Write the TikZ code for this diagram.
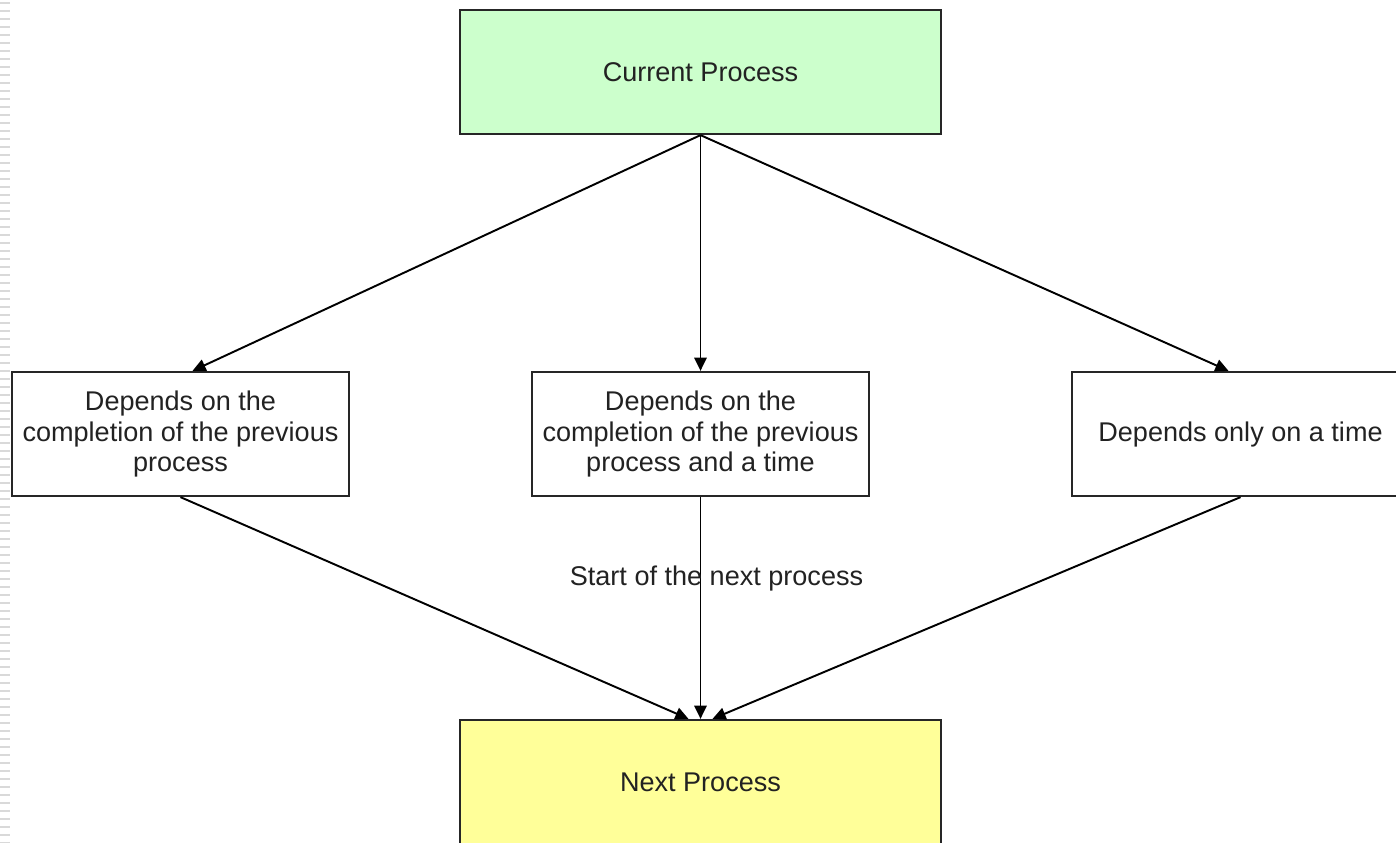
\documentclass[tikz,border=0pt]{standalone}
\usepackage{fontspec}
\setmainfont{Liberation Sans}
\usetikzlibrary{arrows.meta,positioning}

\definecolor{curgreen}{HTML}{CCFFCC}
\definecolor{nextyellow}{HTML}{FFFF99}
\definecolor{textgray}{HTML}{222222}

\tikzset{
  procbox/.style={draw=black!85, line width=1.3pt, inner sep=0pt,
    minimum width=9.62cm, minimum height=2.48cm,
    font=\fontsize{15.4}{17}\selectfont, text=textgray},
  condbox/.style={draw=black!85, line width=1.3pt, inner sep=0pt, fill=white,
    minimum width=6.74cm, minimum height=2.48cm, align=center,
    font=\fontsize{15.4}{17.5}\selectfont, text=textgray},
  arr/.style={draw=black, line width=1.1pt, -{Triangle[length=7.5pt,width=7pt]}},
}

\begin{document}
\begin{tikzpicture}[x=0.02cm,y=-0.02cm]
\useasboundingbox (0,0) rectangle (1396,842);
\clip (0,0) rectangle (1396,842);

% slide edge
\draw[gray!30, line width=0.2cm, dash pattern=on 0.04cm off 0.12cm] (5,2) -- (5,842);

\node[procbox, fill=curgreen] (cur) at (700.5,72) {Current Process};

\node[condbox] (dep1) at (180.5,434) {Depends on the\\completion of the previous\\process};
\node[condbox] (dep2) at (700.5,434) {Depends on the\\completion of the previous\\process and a time};
\node[condbox] (dep3) at (1240.5,434) {Depends only on a time};

\node[procbox, fill=nextyellow] (next) at (700.5,782) {Next Process};

\draw[arr] (cur.south) -- ([xshift=0.24cm]dep1.north);
\draw[arr] (cur.south) -- (dep2.north);
\draw[arr] (cur.south) -- ([xshift=-0.24cm]dep3.north);

\draw[arr] (dep1.south) -- ([xshift=-0.24cm]next.north);
\draw[arr] (dep2.south) -- (next.north);
\draw[arr] (dep3.south) -- ([xshift=0.24cm]next.north);

\node[font=\fontsize{15.4}{17}\selectfont, text=textgray] (start) at (716.5,578) {Start of the next process};

\end{tikzpicture}
\end{document}
